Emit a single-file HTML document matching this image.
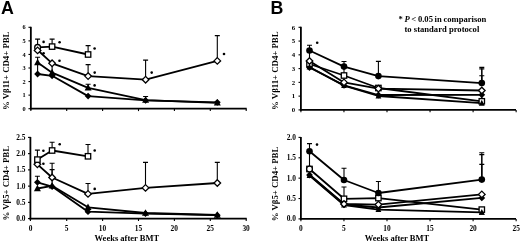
<!DOCTYPE html>
<html><head><meta charset="utf-8"><style>
html,body{margin:0;padding:0;background:#fff;}
body{width:520px;height:243px;overflow:hidden;}
svg{display:block;filter:grayscale(1);}
.pl{font-family:"Liberation Sans",sans-serif;font-weight:bold;font-size:17.8px;}
.tkb{font-family:"Liberation Serif",serif;font-weight:bold;font-size:6.8px;}
.tks{font-family:"Liberation Serif",serif;font-weight:bold;font-size:6.3px;}
.tk{font-family:"Liberation Serif",serif;font-weight:bold;font-size:7.4px;}
.ttl{font-family:"Liberation Serif",serif;font-weight:bold;font-size:8.2px;}
.wk{font-family:"Liberation Serif",serif;font-weight:bold;font-size:8.5px;}
.an{font-family:"Liberation Serif",serif;font-weight:bold;font-size:8.6px;}
</style></head><body>
<svg width="520" height="243" viewBox="0 0 520 243">
<path d="M30.85 109.6 V26.8" stroke="#000" stroke-width="1.8"/>
<path d="M29.95 108.7 H246.7" stroke="#000" stroke-width="1.8"/>
<path d="M28.45 108.7 H30.85" stroke="#000" stroke-width="1.1"/>
<path d="M28.45 95.13 H30.85" stroke="#000" stroke-width="1.1"/>
<path d="M28.45 81.57 H30.85" stroke="#000" stroke-width="1.1"/>
<path d="M28.45 68 H30.85" stroke="#000" stroke-width="1.1"/>
<path d="M28.45 54.43 H30.85" stroke="#000" stroke-width="1.1"/>
<path d="M28.45 40.87 H30.85" stroke="#000" stroke-width="1.1"/>
<path d="M28.45 27.3 H30.85" stroke="#000" stroke-width="1.1"/>
<path d="M30.85 108.7 V111.1" stroke="#000" stroke-width="1.1"/>
<path d="M66.7 108.7 V111.1" stroke="#000" stroke-width="1.1"/>
<path d="M102.6 108.7 V111.1" stroke="#000" stroke-width="1.1"/>
<path d="M138.5 108.7 V111.1" stroke="#000" stroke-width="1.1"/>
<path d="M174.4 108.7 V111.1" stroke="#000" stroke-width="1.1"/>
<path d="M210.3 108.7 V111.1" stroke="#000" stroke-width="1.1"/>
<path d="M246.2 108.7 V111.1" stroke="#000" stroke-width="1.1"/>
<path d="M30.4 219.5 V136.9" stroke="#000" stroke-width="1.8"/>
<path d="M29.5 218.6 H246.7" stroke="#000" stroke-width="1.8"/>
<path d="M28 218.6 H30.4" stroke="#000" stroke-width="1.1"/>
<path d="M28 202.36 H30.4" stroke="#000" stroke-width="1.1"/>
<path d="M28 186.12 H30.4" stroke="#000" stroke-width="1.1"/>
<path d="M28 169.88 H30.4" stroke="#000" stroke-width="1.1"/>
<path d="M28 153.64 H30.4" stroke="#000" stroke-width="1.1"/>
<path d="M28 137.4 H30.4" stroke="#000" stroke-width="1.1"/>
<path d="M30.4 218.6 V221" stroke="#000" stroke-width="1.1"/>
<path d="M66.7 218.6 V221" stroke="#000" stroke-width="1.1"/>
<path d="M102.6 218.6 V221" stroke="#000" stroke-width="1.1"/>
<path d="M138.5 218.6 V221" stroke="#000" stroke-width="1.1"/>
<path d="M174.4 218.6 V221" stroke="#000" stroke-width="1.1"/>
<path d="M210.3 218.6 V221" stroke="#000" stroke-width="1.1"/>
<path d="M246.2 218.6 V221" stroke="#000" stroke-width="1.1"/>
<path d="M300.9 110.8 V26.8" stroke="#000" stroke-width="1.8"/>
<path d="M300 109.9 H516" stroke="#000" stroke-width="1.8"/>
<path d="M298.5 109.9 H300.9" stroke="#000" stroke-width="1.1"/>
<path d="M298.5 96.13 H300.9" stroke="#000" stroke-width="1.1"/>
<path d="M298.5 82.37 H300.9" stroke="#000" stroke-width="1.1"/>
<path d="M298.5 68.6 H300.9" stroke="#000" stroke-width="1.1"/>
<path d="M298.5 54.83 H300.9" stroke="#000" stroke-width="1.1"/>
<path d="M298.5 41.07 H300.9" stroke="#000" stroke-width="1.1"/>
<path d="M298.5 27.3 H300.9" stroke="#000" stroke-width="1.1"/>
<path d="M300.9 109.9 V112.3" stroke="#000" stroke-width="1.1"/>
<path d="M343.95 109.9 V112.3" stroke="#000" stroke-width="1.1"/>
<path d="M387 109.9 V112.3" stroke="#000" stroke-width="1.1"/>
<path d="M430.05 109.9 V112.3" stroke="#000" stroke-width="1.1"/>
<path d="M473.1 109.9 V112.3" stroke="#000" stroke-width="1.1"/>
<path d="M516.15 109.9 V112.3" stroke="#000" stroke-width="1.1"/>
<path d="M300.9 219.8 V136.9" stroke="#000" stroke-width="1.8"/>
<path d="M300 218.9 H516" stroke="#000" stroke-width="1.8"/>
<path d="M298.5 218.9 H300.9" stroke="#000" stroke-width="1.1"/>
<path d="M298.5 198.53 H300.9" stroke="#000" stroke-width="1.1"/>
<path d="M298.5 178.15 H300.9" stroke="#000" stroke-width="1.1"/>
<path d="M298.5 157.78 H300.9" stroke="#000" stroke-width="1.1"/>
<path d="M298.5 137.4 H300.9" stroke="#000" stroke-width="1.1"/>
<path d="M300.9 218.9 V221.3" stroke="#000" stroke-width="1.1"/>
<path d="M343.95 218.9 V221.3" stroke="#000" stroke-width="1.1"/>
<path d="M387 218.9 V221.3" stroke="#000" stroke-width="1.1"/>
<path d="M430.05 218.9 V221.3" stroke="#000" stroke-width="1.1"/>
<path d="M473.1 218.9 V221.3" stroke="#000" stroke-width="1.1"/>
<path d="M516.15 218.9 V221.3" stroke="#000" stroke-width="1.1"/>
<path d="M37.6 74 L52.1 75.8 L88.1 96.1 L145.6 100.4 L217.3 102.3" fill="none" stroke="#000" stroke-width="1.8" stroke-linejoin="round"/>
<path d="M37.6 62.6 L52.1 72.7 L88.1 87.8 L145.6 100.1 L217.3 102.8" fill="none" stroke="#000" stroke-width="1.8" stroke-linejoin="round"/>
<path d="M37.6 50 L52.1 63.3 L88.1 76.1 L145.6 79.7 L217.3 60.9" fill="none" stroke="#000" stroke-width="1.8" stroke-linejoin="round"/>
<path d="M37.6 47.3 L52.1 46.6 L88.1 54.5" fill="none" stroke="#000" stroke-width="1.8" stroke-linejoin="round"/>
<path d="M37.6 74 V64" stroke="#000" stroke-width="1.1" fill="none"/>
<path d="M52.1 75.8 V66" stroke="#000" stroke-width="1.1" fill="none"/>
<path d="M37.6 47.3 V39.1 M35.1 39.1 H40.1" stroke="#000" stroke-width="1.1" fill="none"/>
<path d="M52.1 46.6 V39.1 M49.6 39.1 H54.6" stroke="#000" stroke-width="1.1" fill="none"/>
<path d="M88.1 54.5 V45.6 M85.6 45.6 H90.6" stroke="#000" stroke-width="1.1" fill="none"/>
<path d="M88.1 76.1 V64.6 M85.6 64.6 H90.6" stroke="#000" stroke-width="1.1" fill="none"/>
<path d="M145.6 79.7 V60.1 M143.1 60.1 H148.1" stroke="#000" stroke-width="1.1" fill="none"/>
<path d="M217.3 60.9 V35.6 M214.8 35.6 H219.8" stroke="#000" stroke-width="1.1" fill="none"/>
<path d="M37.6 62.6 V57.2 M35.1 57.2 H40.1" stroke="#000" stroke-width="1.1" fill="none"/>
<path d="M88.1 87.8 V84.3 M85.6 84.3 H90.6" stroke="#000" stroke-width="1.1" fill="none"/>
<path d="M145.6 100.1 V96.5 M143.1 96.5 H148.1" stroke="#000" stroke-width="1.1" fill="none"/>
<path d="M37.6 70.6 L41 74 L37.6 77.4 L34.2 74 Z" fill="#000"/>
<path d="M52.1 72.4 L55.5 75.8 L52.1 79.2 L48.7 75.8 Z" fill="#000"/>
<path d="M88.1 92.7 L91.5 96.1 L88.1 99.5 L84.7 96.1 Z" fill="#000"/>
<path d="M145.6 97 L149 100.4 L145.6 103.8 L142.2 100.4 Z" fill="#000"/>
<path d="M217.3 98.9 L220.7 102.3 L217.3 105.7 L213.9 102.3 Z" fill="#000"/>
<path d="M37.6 58.77 L41.1 65.37 L34.1 65.37 Z" fill="#000"/>
<path d="M52.1 68.87 L55.6 75.47 L48.6 75.47 Z" fill="#000"/>
<path d="M88.1 83.97 L91.6 90.57 L84.6 90.57 Z" fill="#000"/>
<path d="M145.6 96.27 L149.1 102.87 L142.1 102.87 Z" fill="#000"/>
<path d="M217.3 98.97 L220.8 105.57 L213.8 105.57 Z" fill="#000"/>
<path d="M52.1 60 L55.4 63.3 L52.1 66.6 L48.8 63.3 Z" fill="#fff" stroke="#000" stroke-width="1.3"/>
<path d="M88.1 72.8 L91.4 76.1 L88.1 79.4 L84.8 76.1 Z" fill="#fff" stroke="#000" stroke-width="1.3"/>
<path d="M145.6 76.4 L148.9 79.7 L145.6 83 L142.3 79.7 Z" fill="#fff" stroke="#000" stroke-width="1.3"/>
<path d="M217.3 57.6 L220.6 60.9 L217.3 64.2 L214 60.9 Z" fill="#fff" stroke="#000" stroke-width="1.3"/>
<rect x="49.4" y="43.9" width="5.4" height="5.4" fill="#fff" stroke="#000" stroke-width="1.3"/>
<rect x="85.4" y="51.8" width="5.4" height="5.4" fill="#fff" stroke="#000" stroke-width="1.3"/>
<circle cx="37.6" cy="47.4" r="2.9" fill="#fff" stroke="#000" stroke-width="1.3"/>
<path d="M37.6 47.1 L40.9 50.4 L37.6 53.7 L34.3 50.4 Z" fill="#fff" stroke="#000" stroke-width="1.3"/>
<circle cx="43.6" cy="41.9" r="1.3" fill="#000"/>
<circle cx="43.6" cy="53.3" r="1.3" fill="#000"/>
<circle cx="59.6" cy="42.2" r="1.3" fill="#000"/>
<circle cx="59.5" cy="60.8" r="1.3" fill="#000"/>
<circle cx="94.6" cy="48.5" r="1.3" fill="#000"/>
<circle cx="94.7" cy="72.6" r="1.3" fill="#000"/>
<circle cx="94.6" cy="85.4" r="1.3" fill="#000"/>
<circle cx="151.7" cy="72.6" r="1.3" fill="#000"/>
<circle cx="224" cy="54" r="1.3" fill="#000"/>
<path d="M37.4 182.3 L52.1 186.6 L88 211.7 L145.5 213.6 L217.3 215.2" fill="none" stroke="#000" stroke-width="1.8" stroke-linejoin="round"/>
<path d="M37.4 188.5 L52.1 185.8 L88 207.3 L145.5 213 L217.3 215" fill="none" stroke="#000" stroke-width="1.8" stroke-linejoin="round"/>
<path d="M37.4 164.3 L52.1 177.5 L88 193.9 L145.5 187.9 L217.3 183" fill="none" stroke="#000" stroke-width="1.8" stroke-linejoin="round"/>
<path d="M37.4 159.6 L52.1 150.5 L88 156.3" fill="none" stroke="#000" stroke-width="1.8" stroke-linejoin="round"/>
<path d="M37.4 159.6 V150.1 M34.9 150.1 H39.9" stroke="#000" stroke-width="1.1" fill="none"/>
<path d="M52.1 150.5 V142.3 M49.6 142.3 H54.6" stroke="#000" stroke-width="1.1" fill="none"/>
<path d="M88 156.3 V144.5 M85.5 144.5 H90.5" stroke="#000" stroke-width="1.1" fill="none"/>
<path d="M52.1 186 V169.6 M49.6 169.6 H54.6" stroke="#000" stroke-width="1.1" fill="none"/>
<path d="M52.1 177.5 V163.3 M49.6 163.3 H54.6" stroke="#000" stroke-width="1.1" fill="none"/>
<path d="M88 193.9 V183.5 M85.5 183.5 H90.5" stroke="#000" stroke-width="1.1" fill="none"/>
<path d="M145.5 187.9 V162.4 M143 162.4 H148" stroke="#000" stroke-width="1.1" fill="none"/>
<path d="M217.3 183 V162.4 M214.8 162.4 H219.8" stroke="#000" stroke-width="1.1" fill="none"/>
<path d="M37.4 182.3 V176.2 M34.9 176.2 H39.9" stroke="#000" stroke-width="1.1" fill="none"/>
<path d="M37.4 178.9 L40.8 182.3 L37.4 185.7 L34 182.3 Z" fill="#000"/>
<path d="M52.1 183.2 L55.5 186.6 L52.1 190 L48.7 186.6 Z" fill="#000"/>
<path d="M88 208.3 L91.4 211.7 L88 215.1 L84.6 211.7 Z" fill="#000"/>
<path d="M145.5 210.2 L148.9 213.6 L145.5 217 L142.1 213.6 Z" fill="#000"/>
<path d="M217.3 211.8 L220.7 215.2 L217.3 218.6 L213.9 215.2 Z" fill="#000"/>
<path d="M37.4 184.67 L40.9 191.27 L33.9 191.27 Z" fill="#000"/>
<path d="M52.1 181.97 L55.6 188.57 L48.6 188.57 Z" fill="#000"/>
<path d="M88 203.47 L91.5 210.07 L84.5 210.07 Z" fill="#000"/>
<path d="M145.5 209.17 L149 215.77 L142 215.77 Z" fill="#000"/>
<path d="M217.3 211.17 L220.8 217.77 L213.8 217.77 Z" fill="#000"/>
<path d="M37.4 161 L40.7 164.3 L37.4 167.6 L34.1 164.3 Z" fill="#fff" stroke="#000" stroke-width="1.3"/>
<path d="M52.1 174.2 L55.4 177.5 L52.1 180.8 L48.8 177.5 Z" fill="#fff" stroke="#000" stroke-width="1.3"/>
<path d="M88 190.6 L91.3 193.9 L88 197.2 L84.7 193.9 Z" fill="#fff" stroke="#000" stroke-width="1.3"/>
<path d="M145.5 184.6 L148.8 187.9 L145.5 191.2 L142.2 187.9 Z" fill="#fff" stroke="#000" stroke-width="1.3"/>
<path d="M217.3 179.7 L220.6 183 L217.3 186.3 L214 183 Z" fill="#fff" stroke="#000" stroke-width="1.3"/>
<rect x="34.7" y="156.9" width="5.4" height="5.4" fill="#fff" stroke="#000" stroke-width="1.3"/>
<rect x="49.4" y="147.8" width="5.4" height="5.4" fill="#fff" stroke="#000" stroke-width="1.3"/>
<rect x="85.3" y="153.6" width="5.4" height="5.4" fill="#fff" stroke="#000" stroke-width="1.3"/>
<circle cx="43.4" cy="150.7" r="1.3" fill="#000"/>
<circle cx="59.7" cy="144.3" r="1.3" fill="#000"/>
<circle cx="94.7" cy="150.5" r="1.3" fill="#000"/>
<circle cx="43.4" cy="163.7" r="1.3" fill="#000"/>
<circle cx="94.7" cy="188.9" r="1.3" fill="#000"/>
<path d="M309.5 67.5 L344 85.3 L378.4 95 L481.8 94.8" fill="none" stroke="#000" stroke-width="1.8" stroke-linejoin="round"/>
<path d="M309.5 67 L344 85.6 L378.4 96 L481.8 103.2" fill="none" stroke="#000" stroke-width="1.8" stroke-linejoin="round"/>
<path d="M309.5 64 L344 75.5 L378.4 88 L481.8 101.3" fill="none" stroke="#000" stroke-width="1.8" stroke-linejoin="round"/>
<path d="M309.5 61 L344 82.4 L378.4 88.6 L481.8 90.5" fill="none" stroke="#000" stroke-width="1.8" stroke-linejoin="round"/>
<path d="M309.5 50.5 L344 66.6 L378.4 76.1 L481.8 83.1" fill="none" stroke="#000" stroke-width="1.8" stroke-linejoin="round"/>
<path d="M309.5 61 V53" stroke="#000" stroke-width="1.1" fill="none"/>
<path d="M344 75.5 V68" stroke="#000" stroke-width="1.1" fill="none"/>
<path d="M481.8 101.3 V94" stroke="#000" stroke-width="1.1" fill="none"/>
<path d="M309.5 50.5 V45.3 M307 45.3 H312" stroke="#000" stroke-width="1.1" fill="none"/>
<path d="M344 66.6 V61.5 M341.5 61.5 H346.5" stroke="#000" stroke-width="1.1" fill="none"/>
<path d="M378.4 76.1 V61.4 M375.9 61.4 H380.9" stroke="#000" stroke-width="1.1" fill="none"/>
<path d="M481.8 83.1 V67.4 M479.3 67.4 H484.3" stroke="#000" stroke-width="1.1" fill="none"/>
<path d="M481.8 83.1 V68.9 M479.3 68.9 H484.3" stroke="#000" stroke-width="1.1" fill="none"/>
<path d="M481.8 83.1 V75.8 M479.3 75.8 H484.3" stroke="#000" stroke-width="1.1" fill="none"/>
<path d="M309.5 64.1 L312.9 67.5 L309.5 70.9 L306.1 67.5 Z" fill="#000"/>
<path d="M344 81.9 L347.4 85.3 L344 88.7 L340.6 85.3 Z" fill="#000"/>
<path d="M378.4 91.6 L381.8 95 L378.4 98.4 L375 95 Z" fill="#000"/>
<path d="M481.8 91.4 L485.2 94.8 L481.8 98.2 L478.4 94.8 Z" fill="#000"/>
<rect x="306.8" y="61.3" width="5.4" height="5.4" fill="#fff" stroke="#000" stroke-width="1.3"/>
<rect x="341.3" y="72.8" width="5.4" height="5.4" fill="#fff" stroke="#000" stroke-width="1.3"/>
<rect x="375.7" y="85.3" width="5.4" height="5.4" fill="#fff" stroke="#000" stroke-width="1.3"/>
<rect x="479.1" y="98.6" width="5.4" height="5.4" fill="#fff" stroke="#000" stroke-width="1.3"/>
<path d="M309.5 63.58 L312.4 69.48 L306.6 69.48 Z" fill="#000"/>
<path d="M344 82.18 L346.9 88.08 L341.1 88.08 Z" fill="#000"/>
<path d="M378.4 92.58 L381.3 98.48 L375.5 98.48 Z" fill="#000"/>
<path d="M481.8 99.78 L484.7 105.68 L478.9 105.68 Z" fill="#000"/>
<path d="M309.5 57.7 L312.8 61 L309.5 64.3 L306.2 61 Z" fill="#fff" stroke="#000" stroke-width="1.3"/>
<path d="M344 79.1 L347.3 82.4 L344 85.7 L340.7 82.4 Z" fill="#fff" stroke="#000" stroke-width="1.3"/>
<path d="M378.4 85.3 L381.7 88.6 L378.4 91.9 L375.1 88.6 Z" fill="#fff" stroke="#000" stroke-width="1.3"/>
<path d="M481.8 87.2 L485.1 90.5 L481.8 93.8 L478.5 90.5 Z" fill="#fff" stroke="#000" stroke-width="1.3"/>
<circle cx="309.5" cy="50.5" r="3.3" fill="#000"/>
<circle cx="344" cy="66.6" r="3.3" fill="#000"/>
<circle cx="378.4" cy="76.1" r="3.3" fill="#000"/>
<circle cx="481.8" cy="83.1" r="3.3" fill="#000"/>
<circle cx="317.2" cy="42.8" r="1.3" fill="#000"/>
<path d="M309.5 175.5 L344 205 L378.4 209.6 L481.8 212.3" fill="none" stroke="#000" stroke-width="1.8" stroke-linejoin="round"/>
<path d="M309.5 175 L344 204.5 L378.4 207.5 L481.8 197.9" fill="none" stroke="#000" stroke-width="1.8" stroke-linejoin="round"/>
<path d="M309.5 169 L344 198.8 L378.4 198.1 L481.8 209.6" fill="none" stroke="#000" stroke-width="1.8" stroke-linejoin="round"/>
<path d="M309.5 174.6 L344 204 L378.4 204.6 L481.8 194.4" fill="none" stroke="#000" stroke-width="1.8" stroke-linejoin="round"/>
<path d="M309.5 151.3 L344 180 L378.4 193 L481.8 179.6" fill="none" stroke="#000" stroke-width="1.8" stroke-linejoin="round"/>
<path d="M309.5 169 V154" stroke="#000" stroke-width="1.1" fill="none"/>
<path d="M309.5 151.3 V143.6 M307 143.6 H312" stroke="#000" stroke-width="1.1" fill="none"/>
<path d="M344 180 V168.2 M341.5 168.2 H346.5" stroke="#000" stroke-width="1.1" fill="none"/>
<path d="M378.4 193 V181.5 M375.9 181.5 H380.9" stroke="#000" stroke-width="1.1" fill="none"/>
<path d="M481.8 179.6 V152.8 M479.3 152.8 H484.3" stroke="#000" stroke-width="1.1" fill="none"/>
<path d="M481.8 179.6 V154.6 M479.3 154.6 H484.3" stroke="#000" stroke-width="1.1" fill="none"/>
<path d="M481.8 179.6 V164.4 M479.3 164.4 H484.3" stroke="#000" stroke-width="1.1" fill="none"/>
<path d="M344 198.8 V187 M341.5 187 H346.5" stroke="#000" stroke-width="1.1" fill="none"/>
<path d="M309.5 171.6 L312.9 175 L309.5 178.4 L306.1 175 Z" fill="#000"/>
<path d="M344 201.1 L347.4 204.5 L344 207.9 L340.6 204.5 Z" fill="#000"/>
<path d="M378.4 204.1 L381.8 207.5 L378.4 210.9 L375 207.5 Z" fill="#000"/>
<path d="M481.8 194.5 L485.2 197.9 L481.8 201.3 L478.4 197.9 Z" fill="#000"/>
<path d="M309.5 172.08 L312.4 177.98 L306.6 177.98 Z" fill="#000"/>
<path d="M344 201.58 L346.9 207.48 L341.1 207.48 Z" fill="#000"/>
<path d="M378.4 206.18 L381.3 212.08 L375.5 212.08 Z" fill="#000"/>
<path d="M481.8 208.88 L484.7 214.78 L478.9 214.78 Z" fill="#000"/>
<rect x="306.8" y="166.3" width="5.4" height="5.4" fill="#fff" stroke="#000" stroke-width="1.3"/>
<rect x="341.3" y="196.1" width="5.4" height="5.4" fill="#fff" stroke="#000" stroke-width="1.3"/>
<rect x="375.7" y="195.4" width="5.4" height="5.4" fill="#fff" stroke="#000" stroke-width="1.3"/>
<rect x="479.1" y="206.9" width="5.4" height="5.4" fill="#fff" stroke="#000" stroke-width="1.3"/>
<path d="M344 200.7 L347.3 204 L344 207.3 L340.7 204 Z" fill="#fff" stroke="#000" stroke-width="1.3"/>
<path d="M378.4 201.3 L381.7 204.6 L378.4 207.9 L375.1 204.6 Z" fill="#fff" stroke="#000" stroke-width="1.3"/>
<path d="M481.8 191.1 L485.1 194.4 L481.8 197.7 L478.5 194.4 Z" fill="#fff" stroke="#000" stroke-width="1.3"/>
<circle cx="309.5" cy="151.3" r="3.3" fill="#000"/>
<circle cx="344" cy="180" r="3.3" fill="#000"/>
<circle cx="378.4" cy="193" r="3.3" fill="#000"/>
<circle cx="481.8" cy="179.6" r="3.3" fill="#000"/>
<circle cx="309.5" cy="169" r="2.9" fill="#fff" stroke="#000" stroke-width="1.3"/>
<path d="M481.8 208.88 L484.7 214.78 L478.9 214.78 Z" fill="#000"/>
<circle cx="317" cy="144.6" r="1.3" fill="#000"/>
<text x="1" y="13.9" class="pl" text-anchor="start">A</text>
<text x="270.4" y="13.9" class="pl" text-anchor="start">B</text>
<text x="25.6" y="110.8" class="tks" text-anchor="end">0</text>
<text x="295.2" y="112.2" class="tkb" text-anchor="end">0</text>
<text x="25.6" y="97.23" class="tks" text-anchor="end">1</text>
<text x="295.2" y="98.43" class="tkb" text-anchor="end">1</text>
<text x="25.6" y="83.67" class="tks" text-anchor="end">2</text>
<text x="295.2" y="84.67" class="tkb" text-anchor="end">2</text>
<text x="25.6" y="70.1" class="tks" text-anchor="end">3</text>
<text x="295.2" y="70.9" class="tkb" text-anchor="end">3</text>
<text x="25.6" y="56.53" class="tks" text-anchor="end">4</text>
<text x="295.2" y="57.13" class="tkb" text-anchor="end">4</text>
<text x="25.6" y="42.97" class="tks" text-anchor="end">5</text>
<text x="295.2" y="43.37" class="tkb" text-anchor="end">5</text>
<text x="25.6" y="29.4" class="tks" text-anchor="end">6</text>
<text x="295.2" y="29.6" class="tkb" text-anchor="end">6</text>
<text x="25.5" y="221" class="tk" text-anchor="end">0.0</text>
<text x="25.5" y="204.76" class="tk" text-anchor="end">0.5</text>
<text x="25.5" y="188.52" class="tk" text-anchor="end">1.0</text>
<text x="25.5" y="172.28" class="tk" text-anchor="end">1.5</text>
<text x="25.5" y="156.04" class="tk" text-anchor="end">2.0</text>
<text x="25.5" y="139.8" class="tk" text-anchor="end">2.5</text>
<text x="295.9" y="221.3" class="tk" text-anchor="end">0.0</text>
<text x="295.9" y="200.93" class="tk" text-anchor="end">0.5</text>
<text x="295.9" y="180.55" class="tk" text-anchor="end">1.0</text>
<text x="295.9" y="160.18" class="tk" text-anchor="end">1.5</text>
<text x="295.9" y="139.8" class="tk" text-anchor="end">2.0</text>
<text x="30.7" y="231.1" class="tk" text-anchor="middle">0</text>
<text x="66.6" y="231.1" class="tk" text-anchor="middle">5</text>
<text x="102.5" y="231.1" class="tk" text-anchor="middle">10</text>
<text x="138.4" y="231.1" class="tk" text-anchor="middle">15</text>
<text x="174.3" y="231.1" class="tk" text-anchor="middle">20</text>
<text x="210.2" y="231.1" class="tk" text-anchor="middle">25</text>
<text x="246.1" y="231.1" class="tk" text-anchor="middle">30</text>
<text x="300.9" y="231.1" class="tk" text-anchor="middle">0</text>
<text x="343.95" y="231.1" class="tk" text-anchor="middle">5</text>
<text x="387" y="231.1" class="tk" text-anchor="middle">10</text>
<text x="430.05" y="231.1" class="tk" text-anchor="middle">15</text>
<text x="473.1" y="231.1" class="tk" text-anchor="middle">20</text>
<text x="516.15" y="231.1" class="tk" text-anchor="middle">25</text>
<text x="94.6" y="241" class="wk" text-anchor="start">Weeks after BMT</text>
<text x="364.7" y="241" class="wk" text-anchor="start">Weeks after BMT</text>
<text class="ttl" text-anchor="middle" transform="translate(8.5 70.8) rotate(-90) scale(1.07 1)">% V&#946;11+ CD4+ PBL</text>
<text class="ttl" text-anchor="middle" transform="translate(8.5 183.3) rotate(-90) scale(1.07 1)">% V&#946;5+ CD4+ PBL</text>
<text class="ttl" text-anchor="middle" transform="translate(278.2 70.7) rotate(-90) scale(1.07 1)">% V&#946;11+ CD4+ PBL</text>
<text class="ttl" text-anchor="middle" transform="translate(278.2 184) rotate(-90) scale(1.07 1)">% V&#946;5+ CD4+ PBL</text>
<text x="398.5" y="21.8" class="an" word-spacing="-0.5">* <tspan font-style="italic">P</tspan> &lt; 0.05 in comparison</text>
<text x="404.5" y="32.1" class="an">to standard protocol</text>
</svg>
</body></html>
